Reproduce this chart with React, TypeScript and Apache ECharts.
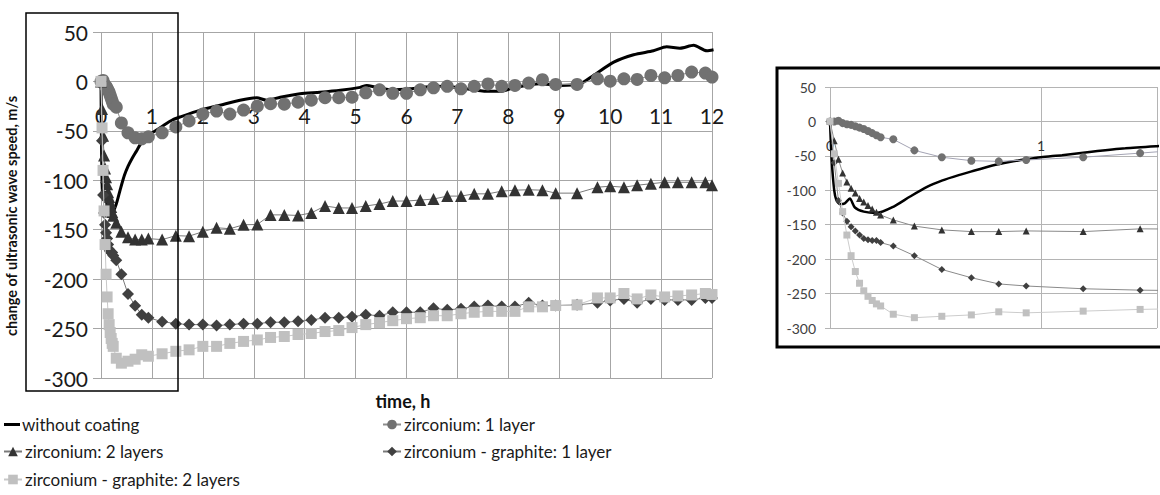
import React, { useEffect, useRef } from "react";
import * as echarts from "echarts";

// time (h) of the marker series
const T = [0, 0.02, 0.04, 0.06, 0.08, 0.1, 0.12, 0.14, 0.16, 0.18, 0.2, 0.22, 0.24,
  0.3, 0.4, 0.53, 0.67, 0.8, 0.93,
  1.2, 1.47, 1.73, 2.0, 2.27, 2.53, 2.8, 3.07, 3.33, 3.6,
  3.87, 4.13, 4.4, 4.67, 4.93, 5.2, 5.47, 5.73, 6.0, 6.27,
  6.53, 6.8, 7.07, 7.33, 7.6, 7.87, 8.13, 8.4, 8.67, 8.93,
  9.35, 9.75, 10.0, 10.27, 10.53, 10.8, 11.07, 11.33, 11.6, 11.87,
  12.0];

const Z1 = [0, 0, 1, -2.5, -4, -5, -7, -9, -11, -14, -17, -20, -23,
  -26, -42, -52, -57, -58, -56,
  -52, -46, -40, -33, -30, -33, -29, -25, -22.5, -23,
  -21, -19, -16.5, -16.5, -16, -11.5, -8.5, -12, -12, -8.5,
  -6.5, -5, -7.5, -5, -2.5, -5, -4, -1.7, 1.7, -3,
  -3, 2.7, 0.3, 2.7, 2, 6, 3.7, 6, 9.5, 8.5,
  4.4];

const Z2 = [0, -28, -55, -75, -88, -97, -104, -112, -117, -122, -127, -132, -136,
  -143, -152, -157.5, -160, -160, -159,
  -160, -156, -156.5, -152, -148, -149, -145, -144.7, -135, -135,
  -135.6, -133, -126, -128, -128, -126, -124, -121, -121, -120,
  -119, -116, -116, -113.7, -113.7, -111, -110, -109.6, -110, -113,
  -113, -107, -106, -107, -105, -103.5, -102, -102, -102, -102,
  -105];

const ZG1 = [0, -60, -115, -133, -145, -153, -159, -165, -170, -172, -173, -173, -176,
  -181, -195, -215, -227, -236, -239,
  -243, -245, -246, -246, -247, -246, -245, -245, -243.6, -243.6,
  -242.6, -241.4, -239, -239, -238, -236, -237, -233.5, -233.5, -233.5,
  -229.5, -231, -230, -227.7, -226.7, -227.7, -227.7, -224, -226.7, -226.7,
  -226, -224, -221.5, -220, -224, -220, -221, -221, -221, -219,
  -219];

const ZG2 = [0, -47, -90, -131, -165, -195, -218, -235, -246, -254, -260, -265, -268,
  -280, -285, -283, -281, -276.5, -278,
  -275.5, -273, -271.5, -268, -268, -265, -263, -261.5, -259, -258,
  -256, -255, -253, -252, -249, -246, -244, -242, -240, -239,
  -237, -237, -235, -233.5, -232.6, -232.6, -232.6, -228, -228, -226.7,
  -226, -219, -219, -214.5, -220, -216, -218, -217, -216, -214.5,
  -215.5];

// without coating (continuous record)
const WT = [0, 0.008, 0.02, 0.03, 0.047, 0.07, 0.094, 0.118, 0.16, 0.22, 0.3, 0.38, 0.46,
  0.53, 0.61, 0.69, 0.77, 0.85, 0.93, 1.0, 1.1, 1.24, 1.4, 1.55, 1.95, 2.34, 2.73,
  3.06, 3.25, 3.52, 3.91, 4.3, 4.7, 5.09, 5.22, 5.4, 5.74, 6.07, 6.6, 7.05, 7.58,
  7.85, 8.1, 8.62, 9.02, 9.41, 9.67, 10.07, 10.46, 10.85, 11.11, 11.37, 11.64, 11.9, 12.03];
const W = [0, -56, -100, -114, -120, -119, -112, -125, -131, -133, -124, -109, -95,
  -86, -78, -71, -64, -59, -55, -52, -49, -44, -39, -36, -29, -24, -19,
  -16.5, -19, -16, -12.5, -11, -9, -6, -4, -6, -8.5, -7.5, -5, -6.5, -10,
  -10, -6.5, -2.4, -4, -2.4, 6, 19.5, 27, 31, 35, 33.5, 36.5, 31, 32];

const NAMES = [
  "without coating",
  "zirconium: 1 layer",
  "zirconium: 2 layers",
  "zirconium - graphite: 1 layer",
  "zirconium - graphite: 2 layers",
];

const Y_MIN = -300;
const Y_MAX = 50;

const FONT = "Lato";

// grid geometry
const MAIN = { left: 101, right: 448, top: 32, bottom: 117 };
const INSET = { left: 830, right: 0, top: 87, bottom: 167 };
const H = 495;

function zeroOffset(g: { top: number; bottom: number }) {
  const plotH = H - g.top - g.bottom;
  const y0 = g.top + (Y_MAX / (Y_MAX - Y_MIN)) * plotH;
  return -(H - g.bottom - y0);
}

function pairs(xs: number[], ys: number[], maxX = Infinity) {
  const out: number[][] = [];
  xs.forEach((x, i) => {
    if (x <= maxX) out.push([x, ys[i]]);
  });
  return out;
}

export default function App() {
  const ref = useRef<HTMLDivElement>(null);

  useEffect(() => {
    if (!ref.current) return;
    const chart = echarts.init(ref.current, undefined, { renderer: "svg" });

    const markerDefs = [
      { name: NAMES[1], ys: Z1, symbol: "circle", big: 13, small: 8, color: "#717171", line: "#8c8c8c", insetLine: "#a4a4b4" },
      { name: NAMES[2], ys: Z2, symbol: "triangle", big: 12, small: 7, color: "#333333", line: "#7a7a7a", insetLine: "#8a8a8a" },
      { name: NAMES[3], ys: ZG1, symbol: "diamond", big: 12, small: 7, color: "#404040", line: "#7a7a7a", insetLine: "#8a8a8a" },
      { name: NAMES[4], ys: ZG2, symbol: "rect", big: 11, small: 7, color: "#c0c0c0", line: "#c8c8c8", insetLine: "#cccccc" },
    ];

    const series: any[] = [];
    // main chart
    series.push({
      name: NAMES[0],
      type: "line",
      xAxisIndex: 0,
      yAxisIndex: 0,
      data: pairs(WT, W),
      showSymbol: false,
      symbol: "none",
      smooth: 0.25,
      lineStyle: { color: "#000", width: 3 },
      itemStyle: { color: "#000" },
      clip: false,
      z: 2,
    });
    markerDefs.forEach((d, k) => {
      series.push({
        name: d.name,
        type: "line",
        xAxisIndex: 0,
        yAxisIndex: 0,
        data: pairs(T, d.ys),
        symbol: d.symbol,
        symbolSize: d.big,
        showAllSymbol: true,
        lineStyle: { color: d.line, width: 1 },
        itemStyle: { color: d.color },
        clip: false,
        z: 3 + k,
      });
    });
    // inset chart
    series.push({
      name: NAMES[0],
      type: "line",
      xAxisIndex: 1,
      yAxisIndex: 1,
      data: pairs(WT, W, 1.95),
      showSymbol: false,
      symbol: "none",
      smooth: 0.25,
      lineStyle: { color: "#000", width: 2.5 },
      clip: true,
      z: 2,
    });
    markerDefs.forEach((d, k) => {
      series.push({
        name: d.name,
        type: "line",
        xAxisIndex: 1,
        yAxisIndex: 1,
        data: pairs(T, d.ys, 1.75),
        symbol: d.symbol,
        symbolSize: d.small,
        showAllSymbol: true,
        lineStyle: { color: d.insetLine, width: 1 },
        itemStyle: { color: d.color },
        clip: true,
        z: 3 + k,
      });
    });

    const legendPos = [
      { left: 4, top: 416 },
      { left: 382, top: 416 },
      { left: 3, top: 443 },
      { left: 382, top: 443 },
      { left: 3, top: 471 },
    ];

    const legends = NAMES.map((n, i) => {
      const base: any = {
        left: legendPos[i].left,
        top: legendPos[i].top,
        orient: "horizontal",
        padding: 0,
        itemWidth: 18,
        itemHeight: 12,
        itemGap: 4,
        selectedMode: false,
        textStyle: { fontSize: 17, color: "#1a1a1a", fontFamily: FONT, padding: [0, 0, 0, -2] },
      };
      if (i === 0) {
        base.data = [{ name: n, icon: "rect", itemStyle: { color: "#000" } }];
        base.itemWidth = 16;
        base.itemHeight = 3;
        base.textStyle = { ...base.textStyle, padding: [0, 0, 0, -3] };
      } else {
        base.data = [n];
      }
      return base;
    });

    const option: any = {
      animation: false,
      textStyle: { fontFamily: FONT },
      grid: [MAIN, INSET],
      xAxis: [
        {
          type: "value",
          gridIndex: 0,
          min: 0,
          max: 12,
          interval: 1,
          position: "bottom",
          offset: zeroOffset(MAIN),
          axisLine: { show: true, onZero: false, lineStyle: { color: "#a6a6a6", width: 1 } },
          axisTick: { show: false },
          axisLabel: { fontSize: 21, color: "#1a1a1a", margin: 24, fontFamily: FONT },
          splitLine: { show: true, lineStyle: { color: "#a6a6a6", width: 1 } },
        },
        {
          type: "value",
          gridIndex: 1,
          min: 0,
          max: 1.55,
          interval: 1,
          position: "bottom",
          offset: zeroOffset(INSET),
          axisLine: { show: true, onZero: false, lineStyle: { color: "#b4b4b4", width: 1 } },
          axisTick: { show: false },
          axisLabel: {
            fontSize: 14,
            color: "#333",
            margin: 17,
            fontFamily: FONT,
            formatter: (v: number) => (Number.isInteger(v) ? String(v) : ""),
          },
          splitLine: { show: true, lineStyle: { color: "#b4b4b4", width: 1 } },
        },
      ],
      yAxis: [
        {
          type: "value",
          gridIndex: 0,
          min: Y_MIN,
          max: Y_MAX,
          interval: 50,
          axisLine: { show: false },
          axisTick: { show: true, length: 8, lineStyle: { color: "#a6a6a6" } },
          axisLabel: { fontSize: 21, color: "#1a1a1a", margin: 13, fontFamily: FONT },
          splitLine: { show: true, lineStyle: { color: "#a6a6a6", width: 1 } },
        },
        {
          type: "value",
          gridIndex: 1,
          min: Y_MIN,
          max: Y_MAX,
          interval: 50,
          axisLine: { show: false },
          axisTick: { show: true, length: 5, lineStyle: { color: "#b4b4b4" } },
          axisLabel: { fontSize: 14, color: "#404040", margin: 14, fontFamily: FONT },
          splitLine: { show: true, lineStyle: { color: "#b4b4b4", width: 1 } },
        },
      ],
      legend: legends,
      graphic: [
        {
          type: "rect",
          z: 100,
          shape: { x: 26, y: 13, width: 152, height: 378 },
          style: { fill: "none", stroke: "#000", lineWidth: 1.5 },
          silent: true,
        },
        {
          type: "rect",
          z: 100,
          shape: { x: 777, y: 68, width: 400, height: 279 },
          style: { fill: "none", stroke: "#000", lineWidth: 3 },
          silent: true,
        },
        {
          type: "text",
          z: 100,
          x: 403,
          y: 401,
          style: {
            text: "time, h",
            fontSize: 18,
            fontWeight: "bold",
            fontFamily: FONT,
            fill: "#111",
            align: "center",
            verticalAlign: "middle",
          },
        },
        {
          type: "text",
          z: 100,
          x: 11,
          y: 216,
          rotation: Math.PI / 2,
          style: {
            text: "change of ultrasonic wave speed, m/s",
            fontSize: 14.5,
            fontWeight: "bold",
            fontFamily: FONT,
            fill: "#111",
            align: "center",
            verticalAlign: "middle",
          },
        },
      ],
      series,
    };

    chart.setOption(option);
    return () => chart.dispose();
  }, []);

  return (
    <div
      ref={ref}
      style={{ position: "fixed", left: 0, top: 0, width: 1160, height: 495, background: "#fff" }}
    />
  );
}
